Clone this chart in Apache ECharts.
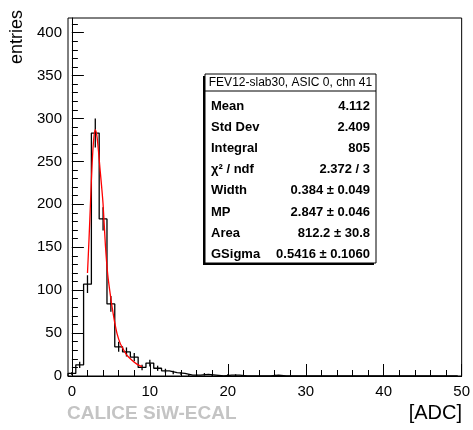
<!DOCTYPE html>
<html>
<head>
<meta charset="utf-8">
<script src="https://cdn.jsdelivr.net/npm/echarts@6/dist/echarts.min.js"></script>
<style>html,body{margin:0;padding:0;background:#fff;}#c{width:473px;height:430px;}</style>
</head>
<body>
<div id="c"></div>
<script>
// ---- data ----
const binCenters = Array.from({length: 50}, (_, i) => i);
const counts = [3,13,107,283,183,84,34,28,22,10,15,9,6,4,3,1,1,2,1,0,1,1,0,0,0,0,1,0,0,0,0,0,0,0,0,0,0,0,0,0,0,0,0,0,0,0,0,0,0,0];
const fitX = [2.0,2.2,2.4,2.6,2.8,3.0,3.2,3.4,3.6,3.8,4.0,4.3,4.6,5.0,5.2,5.5,5.8,6.2,6.6,7.0,7.5,8.0,8.5,9.0];
const fitY = [120,160,205,248,276,287,280,263,242,222,200,152,118,90,78,62,49,38,31,25,20,16,13,11];
const xTickLabels = [0,10,20,30,40,50];
const xMinorTicks = Array.from({length: 26}, (_, i) => i * 2);
const yTickLabels = [0,50,100,150,200,250,300,350,400];
const yMinorTicks = Array.from({length: 42}, (_, i) => i * 10);
const statsTitle = 'FEV12-slab30, ASIC 0, chn 41';
const statsLabels = ['Mean','Std Dev','Integral','χ² / ndf','Width','MP','Area','GSigma'];
const statsValues = ['4.112','2.409','805','2.372 / 3','0.384 ± 0.049','2.847 ± 0.046','812.2 ± 30.8','0.5416 ± 0.1060'];

// ---- derived ----
const stepData = [[-0.5, 0]];
binCenters.forEach((x, i) => { stepData.push([x - 0.5, counts[i]]); stepData.push([x + 0.5, counts[i]]); });
const errData = [];
binCenters.forEach((x, i) => { if (counts[i] > 0) { const e = Math.sqrt(counts[i]); errData.push([x, counts[i] - e, counts[i] + e]); } });
const fitData = fitX.map((x, i) => [x, fitY[i]]);

const FONT = '"Liberation Sans", Arial, Helvetica, sans-serif';
const chart = echarts.init(document.getElementById('c'), null, {renderer: 'canvas'});

const boxL = 205, boxR = 376, boxT = 74, boxB = 263, titleB = 91;
const graphics = [
  {type: 'rect', shape: {x: boxL - 2, y: boxT + 2, width: boxR - boxL, height: boxB - boxT}, style: {fill: '#000'}, z: 10},
  {type: 'rect', shape: {x: boxL, y: boxT, width: boxR - boxL, height: boxB - boxT}, style: {fill: '#fff', stroke: '#000', lineWidth: 1}, z: 11},
  {type: 'line', shape: {x1: boxL, y1: titleB, x2: boxR, y2: titleB}, style: {stroke: '#000', lineWidth: 1}, z: 12},
  {type: 'text', x: (boxL + boxR) / 2, y: (boxT + titleB) / 2 + 0.5, style: {text: statsTitle, font: '12px ' + FONT, fill: '#000', align: 'center', verticalAlign: 'middle'}, z: 12},
  {type: 'text', x: 17, y: 10, rotation: Math.PI / 2, style: {text: 'entries', font: '18px ' + FONT, fill: '#000', align: 'right', verticalAlign: 'middle'}},
  {type: 'text', x: 462, y: 413, style: {text: '[ADC]', font: '20px ' + FONT, fill: '#000', align: 'right', verticalAlign: 'middle'}},
  {type: 'text', x: 67, y: 414, style: {text: 'CALICE SiW-ECAL', font: 'bold 19px ' + FONT, fill: '#c4c4c4', align: 'left', verticalAlign: 'middle'}}
];
statsLabels.forEach((lab, i) => {
  const y = 106 + i * 21.2;
  graphics.push({type: 'text', x: boxL + 6, y: y, style: {text: lab, font: 'bold 13px ' + FONT, fill: '#000', align: 'left', verticalAlign: 'middle'}, z: 12});
  graphics.push({type: 'text', x: boxR - 6, y: y, style: {text: statsValues[i], font: 'bold 13px ' + FONT, fill: '#000', align: 'right', verticalAlign: 'middle'}, z: 12});
});

const axisLineStyle = {show: true, lineStyle: {color: '#000', width: 1}};
chart.setOption({
  animation: false,
  backgroundColor: '#fff',
  grid: {left: 68, right: 9, top: 18, bottom: 54, show: true, borderColor: '#000', borderWidth: 1, backgroundColor: 'transparent'},
  xAxis: [
    {type: 'value', min: -0.5, max: 50, axisLine: axisLineStyle, splitLine: {show: false},
     axisTick: {show: true, inside: true, length: 12, customValues: xTickLabels, lineStyle: {color: '#000'}},
     axisLabel: {customValues: xTickLabels, fontSize: 15, fontFamily: FONT, color: '#000', margin: 8}},
    {type: 'value', min: -0.5, max: 50, position: 'bottom', axisLine: {show: false}, splitLine: {show: false},
     axisTick: {show: true, inside: true, length: 6, customValues: xMinorTicks, lineStyle: {color: '#000'}},
     axisLabel: {show: false}}
  ],
  yAxis: [
    {type: 'value', min: 0, max: 417, axisLine: axisLineStyle, splitLine: {show: false},
     axisTick: {show: true, inside: true, length: 12, customValues: yTickLabels, lineStyle: {color: '#000'}},
     axisLabel: {customValues: yTickLabels, fontSize: 15, fontFamily: FONT, color: '#000', margin: 6}},
    {type: 'value', min: 0, max: 417, position: 'left', axisLine: {show: false}, splitLine: {show: false},
     axisTick: {show: true, inside: true, length: 6, customValues: yMinorTicks, lineStyle: {color: '#000'}},
     axisLabel: {show: false}}
  ],
  series: [
    {type: 'line', data: stepData, symbol: 'none', lineStyle: {color: '#000', width: 1.3}, z: 3, clip: true},
    {type: 'custom', data: errData, z: 4, clip: true,
     renderItem: function (params, api) {
       const p1 = api.coord([api.value(0), api.value(1)]);
       const p2 = api.coord([api.value(0), api.value(2)]);
       return {type: 'line', shape: {x1: p1[0], y1: p1[1], x2: p2[0], y2: p2[1]}, style: {stroke: '#000', lineWidth: 1.3}};
     }},
    {type: 'line', data: fitData, symbol: 'none', smooth: 0.3, lineStyle: {color: '#ff0000', width: 1.3}, z: 5}
  ],
  graphic: graphics
});
</script>
</body>
</html>
